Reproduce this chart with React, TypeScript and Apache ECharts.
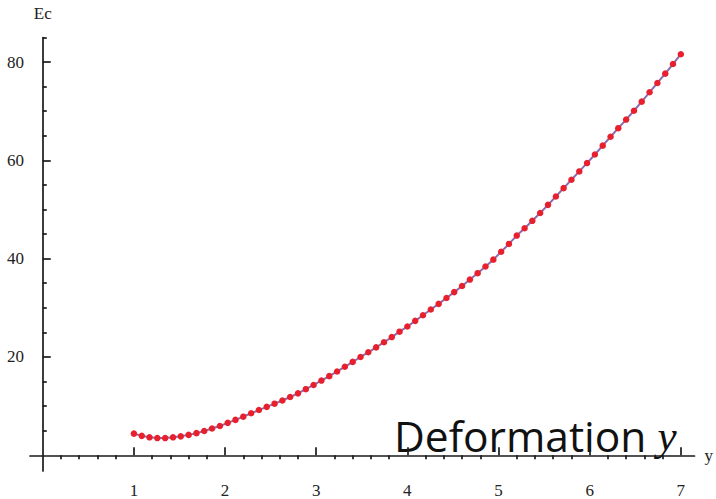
import React, { useEffect, useRef } from "react";
import * as echarts from "echarts";

// Deformation y (sampled grid)
const deformation = [
  1.0, 1.086, 1.171, 1.257, 1.343, 1.429, 1.514, 1.6, 1.686, 1.771, 1.857, 1.943,
  2.029, 2.114, 2.2, 2.286, 2.371, 2.457, 2.543, 2.629, 2.714, 2.8, 2.886, 2.971,
  3.057, 3.143, 3.229, 3.314, 3.4, 3.486, 3.571, 3.657, 3.743, 3.829, 3.914,
  4.0, 4.086, 4.171, 4.257, 4.343, 4.429, 4.514, 4.6, 4.686, 4.771, 4.857, 4.943,
  5.029, 5.114, 5.2, 5.286, 5.371, 5.457, 5.543, 5.629, 5.714, 5.8, 5.886, 5.971,
  6.057, 6.143, 6.229, 6.314, 6.4, 6.486, 6.571, 6.657, 6.743, 6.829, 6.914,
  7.0,
];

// Ec at each deformation value
const ecValues = [
  4.4, 3.95, 3.65, 3.5, 3.5, 3.65, 3.85, 4.15, 4.5, 4.95, 5.45, 5.95,
  6.6, 7.2, 7.85, 8.55, 9.2, 9.85, 10.5, 11.15, 11.85, 12.6, 13.45, 14.3,
  15.2, 16.1, 17.05, 18.0, 19.0, 20.0, 20.95, 21.95, 23.0, 24.05, 25.15,
  26.2, 27.35, 28.5, 29.65, 30.8, 32.0, 33.2, 34.45, 35.75, 37.05, 38.4, 39.8,
  41.4, 43.0, 44.7, 46.2, 47.7, 49.3, 50.95, 52.65, 54.35, 56.05, 57.75, 59.45,
  61.2, 63.0, 64.8, 66.55, 68.3, 70.1, 71.95, 73.85, 75.75, 77.65, 79.6,
  81.6,
];

const xMajorTicks = [1, 2, 3, 4, 5, 6, 7];
const yMajorTicks = [20, 40, 60, 80];

const X_MIN = -0.14;
const X_MAX = 7.15;
const Y_MIN = -3.2;
const Y_MAX = 85;

// minor tick positions: every 0.2 on x, every 5 on y, skipping the major ones
const xMinorTicks: number[] = [];
for (let k = 1; k <= 34; k++) {
  if (k % 5 !== 0) xMinorTicks.push(Math.round(k * 20) / 100);
}
const yMinorTicks: number[] = [];
for (let k = 5; k <= 85; k += 5) {
  if (k % 20 !== 0) yMinorTicks.push(k);
}

const AXIS_COLOR = "#1a1a1a";
const LABEL_FONT = "'Liberation Serif', 'DejaVu Serif', serif";

export default function App() {
  const ref = useRef<HTMLDivElement>(null);

  useEffect(() => {
    if (!ref.current) return;
    const chart = echarts.init(ref.current, undefined, { renderer: "svg" });

    const baseX = {
      type: "value" as const,
      min: X_MIN,
      max: X_MAX,
      splitLine: { show: false },
    };
    const baseY = {
      type: "value" as const,
      min: Y_MIN,
      max: Y_MAX,
      splitLine: { show: false },
      position: "left" as const,
    };

    chart.setOption({
      animation: false,
      backgroundColor: "#ffffff",
      grid: { left: 30, right: 21.3, top: 37.5, bottom: 11.7, containLabel: false },
      xAxis: [
        {
          ...baseX,
          name: "y",
          nameLocation: "end",
          nameGap: 10,
          nameTextStyle: { fontFamily: LABEL_FONT, fontSize: 17, color: "#222" },
          axisLine: {
            show: true,
            onZero: true,
            onZeroAxisIndex: 0,
            lineStyle: { color: AXIS_COLOR, width: 1.7 },
          },
          axisTick: {
            show: true,
            inside: true,
            length: 8,
            customValues: xMajorTicks,
            lineStyle: { color: AXIS_COLOR, width: 1.7 },
          },
          axisLabel: {
            show: true,
            customValues: xMajorTicks,
            margin: 11,
            fontFamily: LABEL_FONT,
            fontSize: 17,
            color: "#222",
          },
        },
        {
          ...baseX,
          axisLine: { show: false, onZero: true, onZeroAxisIndex: 0 },
          axisTick: {
            show: true,
            inside: true,
            length: 4,
            customValues: xMinorTicks,
            lineStyle: { color: AXIS_COLOR, width: 1.7 },
          },
          axisLabel: { show: false },
        },
      ],
      yAxis: [
        {
          ...baseY,
          name: "Ec",
          nameLocation: "end",
          nameGap: 16,
          nameTextStyle: { fontFamily: LABEL_FONT, fontSize: 17, color: "#222" },
          axisLine: {
            show: true,
            onZero: true,
            onZeroAxisIndex: 0,
            lineStyle: { color: AXIS_COLOR, width: 1.7 },
          },
          axisTick: {
            show: true,
            inside: true,
            length: 8,
            customValues: yMajorTicks,
            lineStyle: { color: AXIS_COLOR, width: 1.7 },
          },
          axisLabel: {
            show: true,
            customValues: yMajorTicks,
            margin: 6,
            fontFamily: LABEL_FONT,
            fontSize: 17,
            color: "#222",
          },
        },
        {
          ...baseY,
          axisLine: { show: false, onZero: true, onZeroAxisIndex: 0 },
          axisTick: {
            show: true,
            inside: true,
            length: 4,
            customValues: yMinorTicks,
            lineStyle: { color: AXIS_COLOR, width: 1.7 },
          },
          axisLabel: { show: false },
        },
      ],
      series: [
        {
          type: "line",
          xAxisIndex: 0,
          yAxisIndex: 0,
          data: deformation.map((d, i) => [d, ecValues[i]]),
          showSymbol: true,
          showAllSymbol: true,
          symbol: "circle",
          symbolSize: 6.5,
          clip: false,
          itemStyle: { color: "#e8202e" },
          lineStyle: { color: "#8d6aae", width: 2 },
        },
      ],
      graphic: [
        {
          type: "text",
          left: 394,
          top: 414,
          style: {
            text: "{a|Deformation }{b|y}",
            rich: {
              a: { fontFamily: "'Open Sans', sans-serif", fontSize: 42.5, fill: "#111" },
              b: {
                fontFamily: LABEL_FONT,
                fontStyle: "italic",
                fontSize: 43,
                fill: "#111",
              },
            },
          },
        },
      ],
    });

    return () => chart.dispose();
  }, []);

  return (
    <div
      ref={ref}
      style={{ position: "fixed", left: 0, top: 0, width: 716, height: 499 }}
    />
  );
}
